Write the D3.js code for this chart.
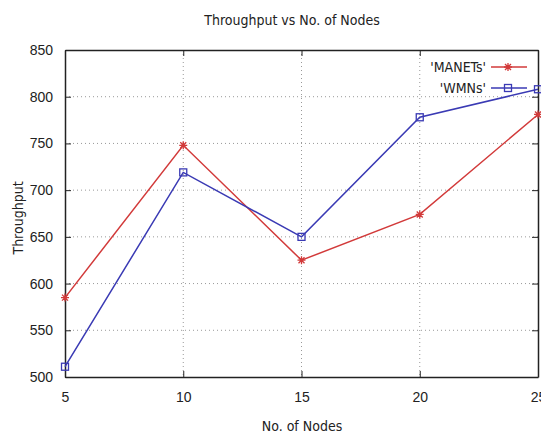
<!DOCTYPE html>
<html lang="en">
<head>
<meta charset="UTF-8">
<title>Throughput vs No. of Nodes</title>
<script src="https://d3js.org/d3.v7.min.js"></script>
<style>
	body { margin: 0; background: #fff; overflow: hidden; }
	svg { font-family: "DejaVu Sans Condensed", "DejaVu Sans", sans-serif; font-stretch: condensed; font-size: 14px; }
	.grid line { stroke: #999; stroke-dasharray: 1,3; }
</style>
</head>
<body>
<script>
	var nodes = [5, 10, 15, 20, 25];
	var manets = [585, 748, 625, 674, 781];
	var wmns = [511, 719, 650, 778, 808];
	var xTicks = [5, 10, 15, 20, 25];
	var yTicks = [500, 550, 600, 650, 700, 750, 800, 850];

	var width = 541, height = 434;
	var margin = {top: 50, right: 3, bottom: 57, left: 65};
	var h = height - margin.top - margin.bottom;

	var svg = d3.select("body").append("svg")
		.attr("width", width).attr("height", height);
	var g = svg.append("g")
		.attr("transform", "translate(" + margin.left + "," + margin.top + ")");

	var x = d3.scaleLinear().domain([5, 25]).range([0, 473]);
	var y = d3.scaleLinear().domain([500, 850]).range([h, 0]);

	// grid
	g.append("g").attr("class", "grid")
		.selectAll("line").data(yTicks.slice(1, -1)).enter().append("line")
		.attr("x1", 0).attr("x2", x(25)).attr("y1", y).attr("y2", y);
	g.append("g").attr("class", "grid")
		.selectAll("line").data(xTicks.slice(1, -1)).enter().append("line")
		.attr("y1", 0).attr("y2", h).attr("x1", x).attr("x2", x);

	// axes (gnuplot style: ticks inside, mirrored)
	var ax = g.append("g").attr("transform", "translate(0," + h + ")")
		.call(d3.axisBottom(x).tickValues(xTicks).tickSizeInner(-6).tickSizeOuter(0).tickPadding(15));
	var ax2 = g.append("g")
		.call(d3.axisTop(x).tickValues(xTicks).tickSizeInner(-6).tickSizeOuter(0).tickFormat(""));
	var ay = g.append("g")
		.call(d3.axisLeft(y).tickValues(yTicks).tickSizeInner(-6).tickSizeOuter(0).tickPadding(12));
	var ay2 = g.append("g").attr("transform", "translate(" + x(25) + ",0)")
		.call(d3.axisRight(y).tickValues(yTicks).tickSizeInner(-6).tickSizeOuter(0).tickFormat(""));
	[ax, ax2, ay, ay2].forEach(function(a){
		a.selectAll("path").attr("stroke", "#222").attr("stroke-width", 1.5);
		a.selectAll("line").attr("stroke", "#222");
		a.selectAll("text").attr("fill", "#222").style("font-size", "14px");
	});

	var line = d3.line().x(function(d){ return x(d[0]); }).y(function(d){ return y(d[1]); });
	var red = "#d23a3a", blue = "#3a3ab4";

	function star(sel, cx, cy) {
		var s = 4;
		sel.append("path")
			.attr("d", "M" + (cx - s) + "," + cy + "H" + (cx + s) + "M" + cx + "," + (cy - s) + "V" + (cy + s) +
				"M" + (cx - s * 0.75) + "," + (cy - s * 0.75) + "L" + (cx + s * 0.75) + "," + (cy + s * 0.75) +
				"M" + (cx - s * 0.75) + "," + (cy + s * 0.75) + "L" + (cx + s * 0.75) + "," + (cy - s * 0.75))
			.attr("stroke", red).attr("stroke-width", 1.3).attr("fill", "none");
	}
	function square(sel, cx, cy) {
		sel.append("rect").attr("x", cx - 3.5).attr("y", cy - 3.5).attr("width", 7).attr("height", 7)
			.attr("fill", "none").attr("stroke", blue).attr("stroke-width", 1.3);
	}

	var mData = nodes.map(function(n, i){ return [n, manets[i]]; });
	var wData = nodes.map(function(n, i){ return [n, wmns[i]]; });

	g.append("path").datum(mData).attr("d", line)
		.attr("fill", "none").attr("stroke", red).attr("stroke-width", 1.5);
	mData.forEach(function(d){ star(g, x(d[0]), y(d[1])); });

	g.append("path").datum(wData).attr("d", line)
		.attr("fill", "none").attr("stroke", blue).attr("stroke-width", 1.5);
	wData.forEach(function(d){ square(g, x(d[0]), y(d[1])); });

	// legend
	var lg = svg.append("g");
	lg.append("text").attr("x", 486).attr("y", 72).attr("text-anchor", "end").attr("fill", "#222").text("'MANETs'");
	lg.append("line").attr("x1", 491).attr("x2", 527).attr("y1", 67).attr("y2", 67)
		.attr("stroke", red).attr("stroke-width", 1.5);
	star(lg, 508, 67);
	lg.append("text").attr("x", 486).attr("y", 93).attr("text-anchor", "end").attr("fill", "#222").text("'WMNs'");
	lg.append("line").attr("x1", 491).attr("x2", 527).attr("y1", 88).attr("y2", 88)
		.attr("stroke", blue).attr("stroke-width", 1.5);
	square(lg, 508, 88);

	// titles
	svg.append("text").attr("x", 292).attr("y", 25).attr("text-anchor", "middle").attr("fill", "#222")
		.text("Throughput vs No. of Nodes");
	svg.append("text").attr("x", 302).attr("y", 431).attr("text-anchor", "middle").attr("fill", "#222")
		.text("No. of Nodes");
	svg.append("text").attr("transform", "translate(23,218) rotate(-90)").attr("text-anchor", "middle")
		.attr("fill", "#222").text("Throughput");
</script>
</body>
</html>
